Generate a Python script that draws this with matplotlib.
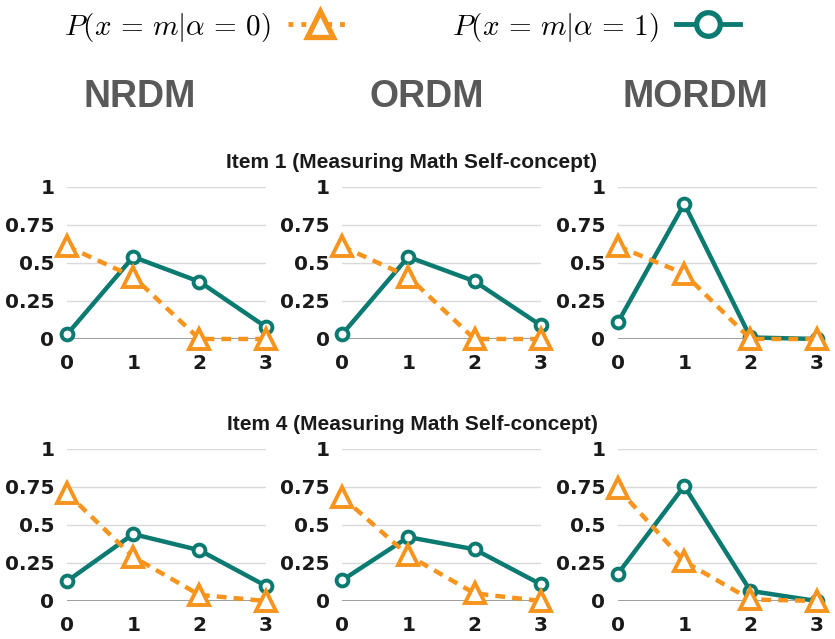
import matplotlib
matplotlib.use("Agg")
import matplotlib.pyplot as plt
from matplotlib.lines import Line2D

plt.rcParams['mathtext.fontset'] = 'cm'

# response categories
cats = [0, 1, 2, 3]
models = ['NRDM', 'ORDM', 'MORDM']
items = ['Item 1 (Measuring Math Self-concept)', 'Item 4 (Measuring Math Self-concept)']

# P(x=m | alpha=0), rows = items, cols = models
p0 = [
    [[0.61, 0.41, 0.00, 0.00], [0.61, 0.41, 0.00, 0.00], [0.61, 0.43, 0.00, 0.00]],
    [[0.71, 0.29, 0.04, 0.00], [0.685, 0.30, 0.05, 0.00], [0.74, 0.26, 0.01, 0.00]],
]
# P(x=m | alpha=1)
p1 = [
    [[0.03, 0.54, 0.377, 0.08], [0.03, 0.54, 0.38, 0.09], [0.11, 0.89, 0.01, 0.00]],
    [[0.13, 0.44, 0.334, 0.10], [0.136, 0.42, 0.34, 0.11], [0.18, 0.756, 0.066, 0.00]],
]
yticks = [0, 0.25, 0.5, 0.75, 1]
ytick_labels = ['0', '0.25', '0.5', '0.75', '1']

teal = '#0b7a70'
orange = '#f7941d'

fig = plt.figure(figsize=(8.35, 6.39), dpi=100)

lefts = [0.0802, 0.4096, 0.7401]
bottoms = [0.4695, 0.0595]
w, h = 0.238, 0.2379

for r in range(2):
    for c in range(3):
        ax = fig.add_axes([lefts[c], bottoms[r], w, h])
        ax.plot(cats, p1[r][c], color=teal, lw=3.2, marker='o', ms=8.5,
                mfc='white', mec=teal, mew=2.8, clip_on=False, zorder=3)
        ax.plot(cats, p0[r][c], color=orange, lw=3.2, dashes=(2.2, 1.6),
                marker='^', ms=14, mfc='white', mec=orange, mew=2.8,
                clip_on=False, zorder=4)
        ax.set_xlim(0, 3)
        ax.set_ylim(0, 1)
        ax.set_xticks(cats)
        ax.set_yticks(yticks)
        ax.set_yticklabels(ytick_labels)
        for s in ax.spines.values():
            s.set_visible(False)
        for y in yticks[1:]:
            ax.axhline(y, color='#d9d9d9', lw=1, zorder=1)
        ax.axhline(0, color='#8c8c8c', lw=1.2, zorder=1)
        ax.tick_params(length=0, labelsize=14.5, colors='#1a1a1a')
        ax.tick_params(axis='x', pad=11)
        ax.tick_params(axis='y', pad=9)
        for lab in ax.get_xticklabels() + ax.get_yticklabels():
            lab.set_fontweight('bold')

# row titles
fig.text(412 / 835, 1 - 162 / 639, items[0], ha='center', va='center',
         fontsize=15, fontweight='bold', family='Liberation Sans', color='#1a1a1a')
fig.text(412 / 835, 1 - 424 / 639, items[1], ha='center', va='center',
         fontsize=15, fontweight='bold', family='Liberation Sans', color='#1a1a1a')

# model headings
for name, xc in zip(models, [140, 427, 695]):
    fig.text(xc / 835, 1 - 97 / 639, name, ha='center', va='center',
             fontsize=27, fontweight='bold', family='Liberation Sans', color='#595959')

# legend
handles = [
    Line2D([], [], color=orange, lw=3.5, linestyle=':', marker='^', ms=19,
           mfc='white', mec=orange, mew=3.8),
    Line2D([], [], color=teal, lw=3.5, marker='o', ms=17,
           mfc='white', mec=teal, mew=3.8),
]
labels = [r'$P(x\,=\,m|\alpha\,=\,0)$', r'$P(x\,=\,m|\alpha\,=\,1)$']
fig.legend(handles, labels, ncol=2, markerfirst=False, frameon=False,
           loc='center', bbox_to_anchor=(402 / 835, 1 - 27 / 639),
           fontsize=21, handlelength=2.2, handletextpad=0.6, columnspacing=3.4)

fig.savefig('out.png', dpi=100)
